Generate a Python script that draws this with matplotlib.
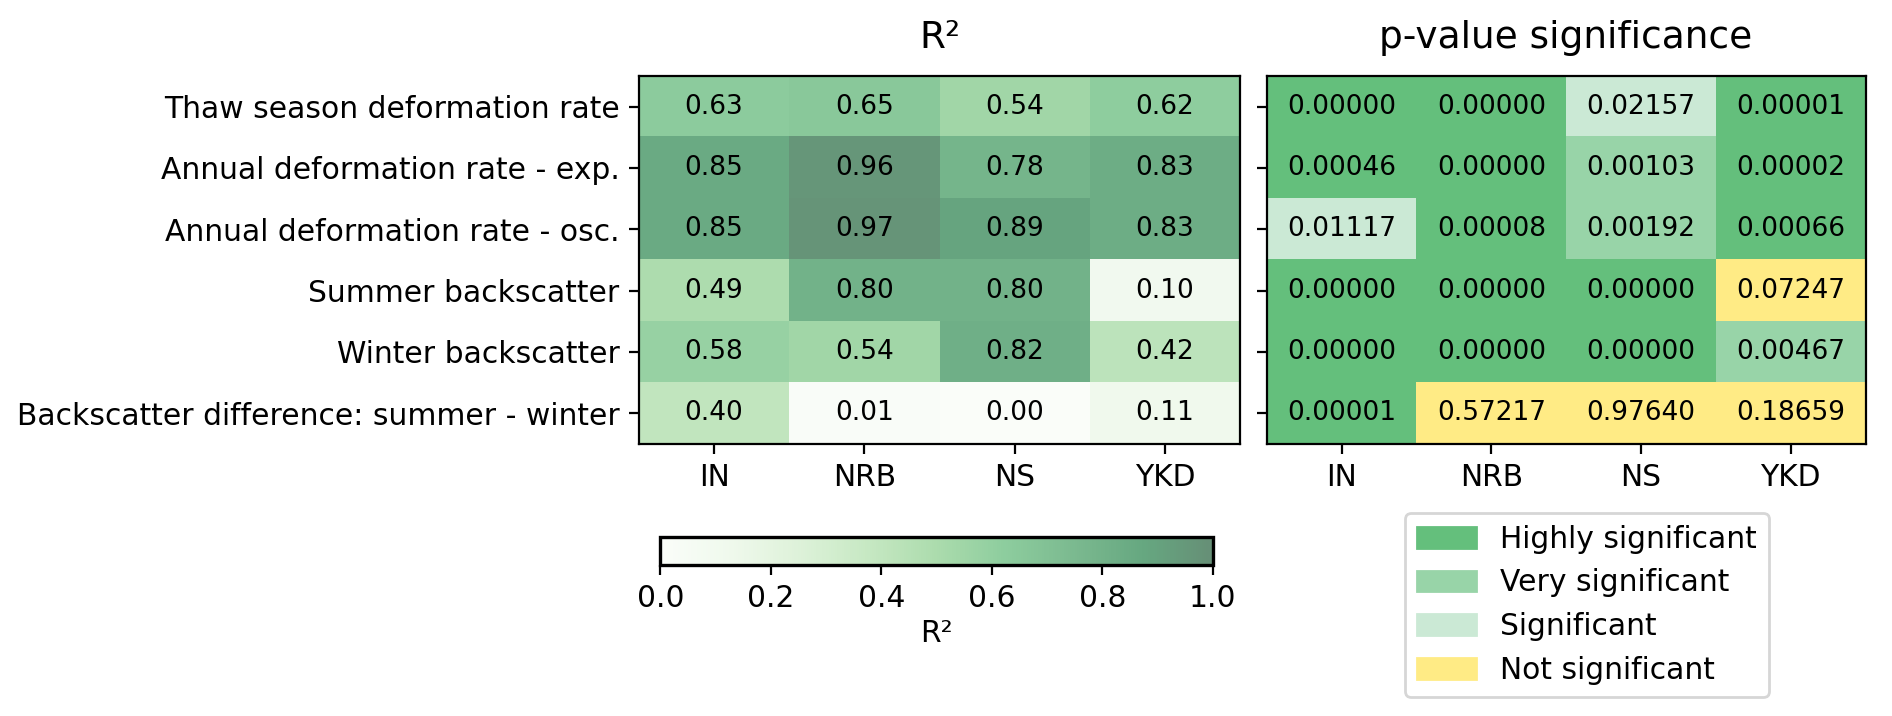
import numpy as np
import matplotlib
matplotlib.use("Agg")
import matplotlib.pyplot as plt
from matplotlib.colors import ListedColormap, BoundaryNorm
from matplotlib.patches import Patch

rows = ['Thaw season deformation rate', 'Annual deformation rate - exp.',
        'Annual deformation rate - osc.', 'Summer backscatter',
        'Winter backscatter', 'Backscatter difference: summer - winter']
regions = ['IN', 'NRB', 'NS', 'YKD']

r2_IN = [0.63, 0.85, 0.85, 0.49, 0.58, 0.40]
r2_NRB = [0.65, 0.96, 0.97, 0.80, 0.54, 0.01]
r2_NS = [0.54, 0.78, 0.89, 0.80, 0.82, 0.00]
r2_YKD = [0.62, 0.83, 0.83, 0.10, 0.42, 0.11]

p_IN = [0.00000, 0.00046, 0.01117, 0.00000, 0.00000, 0.00001]
p_NRB = [0.00000, 0.00000, 0.00008, 0.00000, 0.00000, 0.57217]
p_NS = [0.02157, 0.00103, 0.00192, 0.00000, 0.00000, 0.97640]
p_YKD = [0.00001, 0.00002, 0.00066, 0.07247, 0.00467, 0.18659]

sig_labels = ['Highly significant', 'Very significant', 'Significant', 'Not significant']
sig_colors = ['#64bf7c', '#98d4a8', '#cbe9d5', '#ffeb85']
sig_limits = [0.001, 0.01, 0.05]

r2 = np.array([r2_IN, r2_NRB, r2_NS, r2_YKD]).T
pv = np.array([p_IN, p_NRB, p_NS, p_YKD]).T
cat = np.digitize(pv, sig_limits)

# Greens faded with alpha 0.6 over white
base = plt.get_cmap('Greens')(np.linspace(0, 1, 256))
base[:, :3] = 0.6 * base[:, :3] + 0.4
cmap_r2 = ListedColormap(base)

plt.rcParams['xtick.labelsize'] = 10.7
plt.rcParams['ytick.labelsize'] = 10.7

fig = plt.figure(figsize=(9.46, 3.58), dpi=200)
ax1 = fig.add_axes([0.3377, 0.380, 0.3177, 0.514])
ax2 = fig.add_axes([0.6695, 0.380, 0.3165, 0.514])
cax = fig.add_axes([0.349, 0.211, 0.292, 0.039])

im = ax1.imshow(r2, cmap=cmap_r2, vmin=0, vmax=1, aspect='auto')
for i in range(r2.shape[0]):
    for j in range(r2.shape[1]):
        ax1.text(j, i, f'{r2[i, j]:.2f}', ha='center', va='center', fontsize=9.5)
ax1.set_xticks(range(len(regions)))
ax1.set_xticklabels(regions)
ax1.set_yticks(range(len(rows)))
ax1.set_yticklabels(rows)
ax1.set_title('R²', fontsize=13.5, pad=10)

ax2.imshow(cat, cmap=ListedColormap(sig_colors),
           norm=BoundaryNorm([-0.5, 0.5, 1.5, 2.5, 3.5], 4), aspect='auto')
for i in range(pv.shape[0]):
    for j in range(pv.shape[1]):
        ax2.text(j, i, f'{pv[i, j]:.5f}', ha='center', va='center', fontsize=9.5)
ax2.set_xticks(range(len(regions)))
ax2.set_xticklabels(regions)
ax2.set_yticks(range(len(rows)))
ax2.set_yticklabels([])
ax2.set_title('p-value significance', fontsize=13.5, pad=10)

cb = fig.colorbar(im, cax=cax, orientation='horizontal')
cb.set_label('R²', fontsize=10.7, labelpad=2)
cb.set_ticks([0, 0.2, 0.4, 0.6, 0.8, 1.0])
cb.outline.set_linewidth(1.2)

handles = [Patch(color=c, label=l) for c, l in zip(sig_colors, sig_labels)]
fig.legend(handles=handles, loc='upper left', bbox_to_anchor=(0.7426, 0.284),
           borderaxespad=0, fontsize=10.7)

fig.savefig('out.png', dpi=200)
